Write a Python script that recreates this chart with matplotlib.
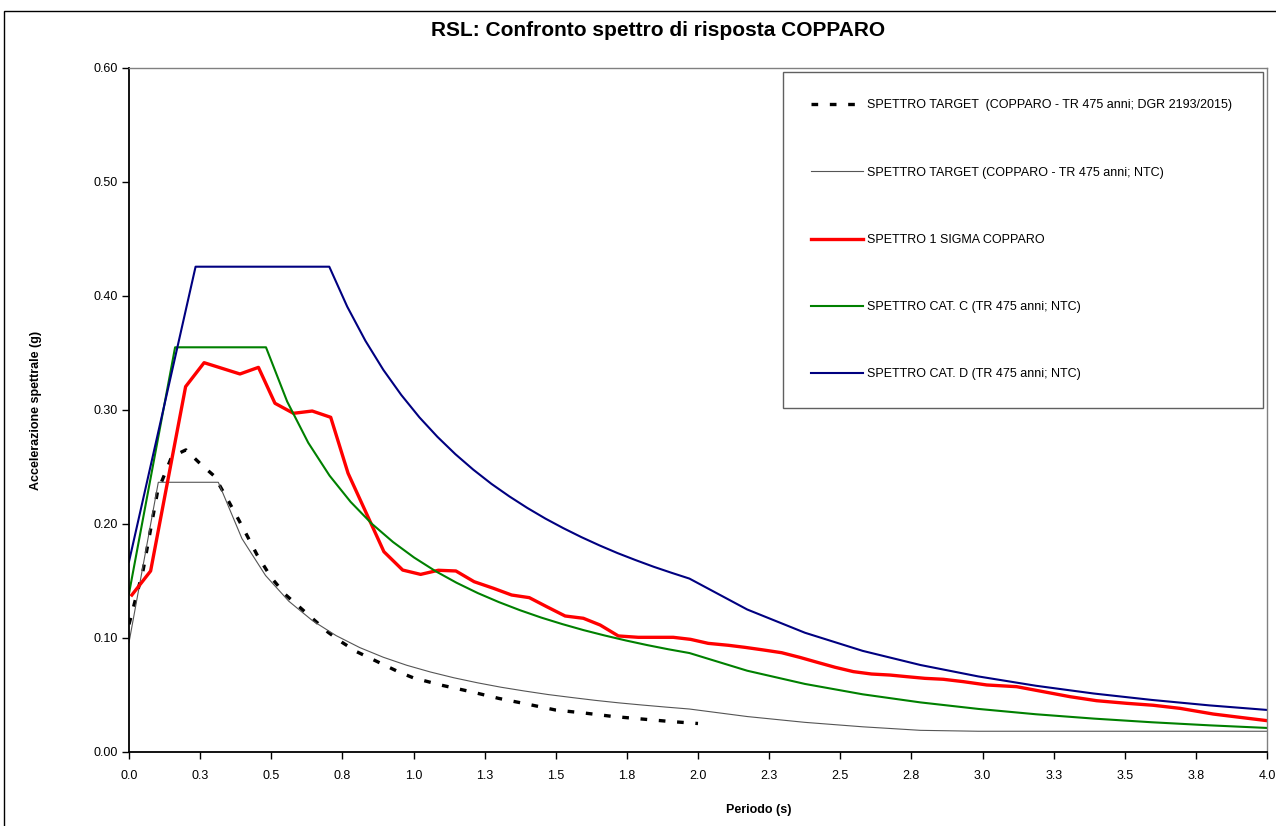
import matplotlib
matplotlib.use("Agg")
import matplotlib.pyplot as plt
from matplotlib.patches import Rectangle

plt.rcParams['font.family'] = ['Liberation Sans', 'DejaVu Sans']

# periodi (s) e accelerazioni spettrali (g)
T_dgr = [0.0, 0.05, 0.1, 0.15, 0.2, 0.25, 0.3, 0.35, 0.4, 0.45, 0.5, 0.55, 0.6, 0.65,
         0.7, 0.75, 0.8, 0.85, 0.9, 0.95, 1.0, 1.1, 1.2, 1.3, 1.4, 1.5, 1.6, 1.7,
         1.8, 1.9, 2.0]
Sa_dgr = [0.112, 0.160, 0.228, 0.259, 0.265, 0.253, 0.242, 0.220, 0.197, 0.173, 0.153,
          0.138, 0.127, 0.116, 0.105, 0.096, 0.088, 0.082, 0.076, 0.070, 0.065, 0.0585,
          0.053, 0.047, 0.042, 0.0368, 0.0342, 0.0312, 0.029, 0.0268, 0.025]

T_ntc = [0.0, 0.103, 0.314, 0.397, 0.480, 0.562, 0.645, 0.728, 0.811, 0.894, 0.976,
         1.059, 1.142, 1.225, 1.308, 1.390, 1.473, 1.556, 1.639, 1.722, 1.804, 1.887,
         1.970, 2.173, 2.376, 2.579, 2.782, 2.985, 3.188, 3.391, 3.594, 3.797, 4.0]
Sa_ntc = [0.096, 0.2366, 0.2366, 0.1872, 0.1548, 0.1322, 0.1152, 0.1021, 0.0916, 0.0831,
          0.0761, 0.0702, 0.0651, 0.0607, 0.0568, 0.0535, 0.0504, 0.0478, 0.0453, 0.0431,
          0.0412, 0.0394, 0.0377, 0.0311, 0.0260, 0.0221, 0.0190, 0.0182, 0.0182, 0.0182,
          0.0182, 0.0182, 0.0182]

T_sigma = [0.01, 0.076, 0.199, 0.264, 0.390, 0.455, 0.513, 0.578, 0.644, 0.709, 0.770,
           0.896, 0.962, 1.025, 1.087, 1.149, 1.213, 1.281, 1.345, 1.407, 1.468, 1.533,
           1.597, 1.656, 1.720, 1.790, 1.855, 1.913, 1.974, 2.036, 2.107, 2.165, 2.230,
           2.294, 2.358, 2.423, 2.482, 2.546, 2.610, 2.675, 2.733, 2.798, 2.862, 2.933,
           3.015, 3.120, 3.214, 3.308, 3.401, 3.507, 3.600, 3.694, 3.811, 3.905, 4.0]
Sa_sigma = [0.1377, 0.1588, 0.3205, 0.3415, 0.3316, 0.3374, 0.3059, 0.2971, 0.2991, 0.2936,
            0.2445, 0.1757, 0.1596, 0.1558, 0.1594, 0.1588, 0.1494, 0.1436, 0.1377, 0.1354,
            0.1275, 0.1193, 0.1173, 0.1114, 0.1018, 0.1006, 0.1006, 0.1006, 0.0988, 0.0953,
            0.0936, 0.0918, 0.0895, 0.0871, 0.0830, 0.0784, 0.0743, 0.0705, 0.0684, 0.0675,
            0.0661, 0.0646, 0.0638, 0.0617, 0.0588, 0.0573, 0.0529, 0.0485, 0.0450, 0.0427,
            0.0410, 0.0383, 0.0333, 0.0304, 0.0275]

T_catC = [0.0, 0.162, 0.4815, 0.556, 0.630, 0.705, 0.779, 0.854, 0.928, 1.002, 1.077,
          1.151, 1.226, 1.300, 1.374, 1.449, 1.523, 1.598, 1.672, 1.747, 1.821, 1.896,
          1.970, 2.173, 2.376, 2.579, 2.782, 2.985, 3.188, 3.391, 3.594, 3.797, 4.0]
Sa_catC = [0.139, 0.355, 0.355, 0.3074, 0.2713, 0.2424, 0.2194, 0.2001, 0.1842, 0.1706,
           0.1587, 0.1485, 0.1394, 0.1315, 0.1244, 0.1179, 0.1122, 0.1069, 0.1022, 0.0978,
           0.0938, 0.0901, 0.0868, 0.0713, 0.0597, 0.0506, 0.0435, 0.0378, 0.0331, 0.0293,
           0.0261, 0.0234, 0.0211]

T_catD = [0.0, 0.234, 0.704, 0.767, 0.831, 0.894, 0.957, 1.021, 1.084, 1.147, 1.210,
          1.274, 1.337, 1.400, 1.464, 1.527, 1.590, 1.654, 1.717, 1.780, 1.844, 1.907,
          1.970, 2.173, 2.376, 2.579, 2.782, 2.985, 3.188, 3.391, 3.594, 3.797, 4.0]
Sa_catD = [0.167, 0.4257, 0.4257, 0.3907, 0.3607, 0.3352, 0.3132, 0.2935, 0.2765, 0.2613,
           0.2477, 0.2352, 0.2242, 0.2141, 0.2047, 0.1963, 0.1885, 0.1812, 0.1745, 0.1684,
           0.1625, 0.1572, 0.1521, 0.1250, 0.1046, 0.0887, 0.0763, 0.0663, 0.0581, 0.0513,
           0.0457, 0.0409, 0.0369]

x_ticks = [0.0, 0.25, 0.5, 0.75, 1.0, 1.25, 1.5, 1.75, 2.0, 2.25, 2.5, 2.75, 3.0, 3.25,
           3.5, 3.75, 4.0]
x_tick_labels = ["0.0", "0.3", "0.5", "0.8", "1.0", "1.3", "1.5", "1.8", "2.0", "2.3",
                 "2.5", "2.8", "3.0", "3.3", "3.5", "3.8", "4.0"]
y_ticks = [0.0, 0.1, 0.2, 0.3, 0.4, 0.5, 0.6]

W, H = 1276, 826
fig = plt.figure(figsize=(W / 100, H / 100), dpi=100)
ax = fig.add_axes([129 / W, 1 - 752 / H, (1267 - 129) / W, (752 - 68) / H])

ax.plot(T_dgr, Sa_dgr, color="black", lw=2.4, dashes=(2.0, 3.5),
        label="SPETTRO TARGET  (COPPARO - TR 475 anni; DGR 2193/2015)")
ax.plot(T_ntc, Sa_ntc, color="#555555", lw=0.8,
        label="SPETTRO TARGET (COPPARO - TR 475 anni; NTC)")
ax.plot(T_sigma, Sa_sigma, color="#ff0000", lw=2.4, label="SPETTRO 1 SIGMA COPPARO")
ax.plot(T_catC, Sa_catC, color="#008000", lw=1.5, label="SPETTRO CAT. C (TR 475 anni; NTC)")
ax.plot(T_catD, Sa_catD, color="#000080", lw=1.5, label="SPETTRO CAT. D (TR 475 anni; NTC)")

ax.set_xlim(0, 4)
ax.set_ylim(0, 0.6)
ax.set_xticks(x_ticks)
ax.set_xticklabels(x_tick_labels)
ax.set_yticks(y_ticks)
ax.set_yticklabels(["%.2f" % v for v in y_ticks])
ax.tick_params(direction="out", length=5, width=1, labelsize=9, color="black")
ax.tick_params(axis="x", pad=8)
ax.tick_params(axis="y", pad=3)

for s in ["left", "bottom"]:
    ax.spines[s].set_color("black")
    ax.spines[s].set_linewidth(1.3)
for s in ["top", "right"]:
    ax.spines[s].set_color("#808080")
    ax.spines[s].set_linewidth(1.0)

leg = ax.legend(loc="upper left", bbox_to_anchor=(0.5747, 0.0, 0.4218, 0.9942),
                mode="expand", borderaxespad=0, fontsize=9, borderpad=2.2,
                labelspacing=4.42, handlelength=4.2, handletextpad=0.3,
                fancybox=False, framealpha=1)
leg.get_frame().set_edgecolor("#606060")
leg.get_frame().set_linewidth(1.0)

fig.text(658 / W, 1 - 31 / H, "RSL: Confronto spettro di risposta COPPARO",
         ha="center", va="center", fontsize=15, fontweight="bold")
fig.text(759 / W, 1 - 810 / H, "Periodo (s)", ha="center", va="center",
         fontsize=9, fontweight="bold")
fig.text(36 / W, 1 - 410 / H, "Accelerazione spettrale (g)", ha="center", va="center",
         rotation=90, fontsize=9, fontweight="bold")

# bordo dell'area del grafico
fig.patches.append(Rectangle((4 / W, -0.05), 1.0, 1 - 11 / H + 0.05,
                             transform=fig.transFigure, fill=False,
                             edgecolor="black", lw=1.0))

fig.savefig("out.png", dpi=100)
